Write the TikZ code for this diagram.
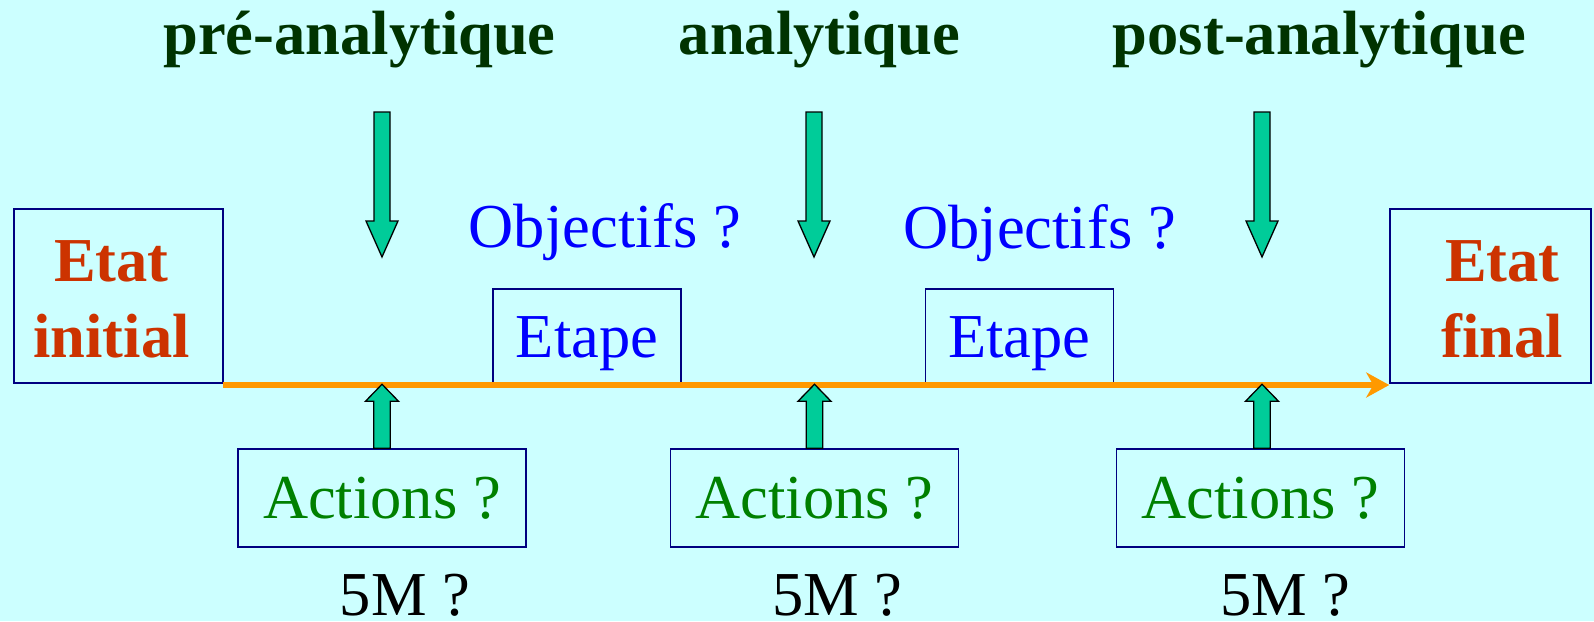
\documentclass[tikz,border=0pt]{standalone}
\usepackage{fontspec}
\setmainfont{Liberation Serif}
\usepackage{tikz}
\usetikzlibrary{arrows.meta, positioning, calc}
\definecolor{fondcyan}{RGB}{204, 255, 255}
\definecolor{vertfonce}{RGB}{0, 51, 0}
\definecolor{rougeetat}{RGB}{204, 51, 0}
\definecolor{bleuobj}{RGB}{0, 0, 255}
\definecolor{vertaction}{RGB}{0, 128, 0}
\definecolor{bordmarine}{RGB}{0, 0, 128}
\definecolor{orangeligne}{RGB}{255, 153, 0}
\definecolor{vertfleche}{RGB}{0, 204, 153}
\newcommand{\grandtexte}{\fontsize{62.5}{76}\selectfont}
\tikzset{
  >=Stealth,
  timeline/.style={-{Stealth[length=23pt, width=25pt, inset=7pt]}, line width=6.5pt, orangeligne},
  fatarrow/.style={draw=black, line width=1.3pt, fill=vertfleche, line join=miter}
}

\begin{document}
\begin{tikzpicture}[x=1pt, y=-1pt, every node/.style={inner sep=0pt, font=\grandtexte},
    titre/.style={font=\grandtexte\bfseries, text=vertfonce, anchor=base},
    objtxt/.style={text=bleuobj, anchor=base},
    etatbox/.style={draw=bordmarine, line width=1.5pt, minimum height=174pt},
    etattxt/.style={font=\grandtexte\bfseries, text=rougeetat, align=center},
    etapebox/.style={draw=bordmarine, line width=1.5pt, text=bleuobj, text depth=0pt, minimum width=188pt, minimum height=96pt},
    actbox/.style={draw=bordmarine, line width=1.5pt, text=vertaction, minimum width=288pt, minimum height=98pt}]
    % fond
    \fill[fondcyan] (0,0) rectangle (1594,621);
    \useasboundingbox (0,0) rectangle (1594,621);
    % Titres des phases
    \node (pre) [titre] at (359.5,54) {pré-analytique};
    \node (ana) [titre] at (819.5,54) {analytique};
    \node (post) [titre] at (1319.5,54) {post-analytique};
    % Etats initial et final
    \node (ini) [etatbox, minimum width=209pt] at (118.5,296) {};
    \node (initxt) [etattxt] at (111.5,299) {Etat\\initial};
    \node (fin) [etatbox, minimum width=201pt] at (1490.5,296) {};
    \node (fintxt) [etattxt] at (1502.5,299) {Etat\\final};
    % Etapes et objectifs
    \node (etape1) [etapebox] at (587,337) {Etape};
    \node (etape2) [etapebox] at (1019.5,337) {Etape};
    \node (obj1) [objtxt] at (605,247) {Objectifs ?};
    \node (obj2) [objtxt] at (1039.5,248) {Objectifs ?};
    % Actions et 5M
    \node (act1) [actbox] at (382,498) {Actions ?};
    \node (act2) [actbox] at (814.5,498) {Actions ?};
    \node (act3) [actbox] at (1260.5,498) {Actions ?};
    \node (cinqm1) [anchor=base] at ([xshift=23pt, yshift=-68pt]act1.south) {5M ?};
    \node (cinqm2) [anchor=base] at ([xshift=23pt, yshift=-68pt]act2.south) {5M ?};
    \node (cinqm3) [anchor=base] at ([xshift=25pt, yshift=-68pt]act3.south) {5M ?};
    % Ligne du temps
    \coordinate (debut) at (223,385);
    \draw[timeline] (debut) -- (fin.west |- debut);
    % Fleches des phases (vers le bas)
    \coordinate (bas1) at (382,112);
    \coordinate (bas2) at (814,112);
    \coordinate (bas3) at (1262,112);
    \draw[fatarrow, shift={(bas1)}] (-8,0) -- (8,0) -- (8,109) -- (16,109) -- (0,145) -- (-16,109) -- (-8,109) -- cycle;
    \draw[fatarrow, shift={(bas2)}] (-8,0) -- (8,0) -- (8,109) -- (16,109) -- (0,145) -- (-16,109) -- (-8,109) -- cycle;
    \draw[fatarrow, shift={(bas3)}] (-8,0) -- (8,0) -- (8,109) -- (16,109) -- (0,145) -- (-16,109) -- (-8,109) -- cycle;
    % Fleches des actions (vers le haut)
    \draw[fatarrow, shift={(act1.north)}] (-8.3,0) -- (-8.3,-47) -- (-16.5,-47) -- (0,-64) -- (16.5,-47) -- (8.3,-47) -- (8.3,0) -- cycle;
    \draw[fatarrow, shift={(act2.north)}] (-8.3,0) -- (-8.3,-47) -- (-16.5,-47) -- (0,-64) -- (16.5,-47) -- (8.3,-47) -- (8.3,0) -- cycle;
    \draw[fatarrow, shift={([xshift=1.5pt]act3.north)}] (-8.3,0) -- (-8.3,-47) -- (-16.5,-47) -- (0,-64) -- (16.5,-47) -- (8.3,-47) -- (8.3,0) -- cycle;
\end{tikzpicture}
\end{document}
